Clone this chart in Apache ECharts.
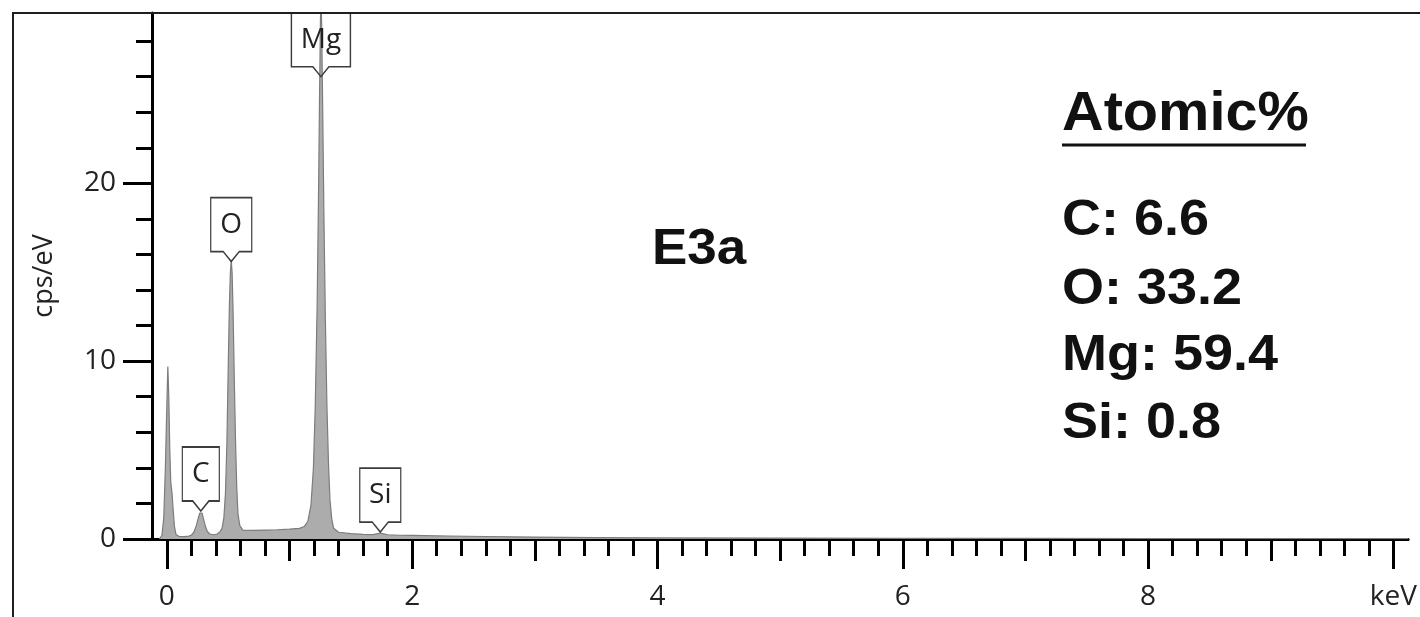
<!DOCTYPE html>
<html>
<head>
<meta charset="utf-8">
<script src="https://cdn.jsdelivr.net/npm/echarts@6/dist/echarts.min.js"></script>
<style>
  html, body { margin: 0; padding: 0; background: #ffffff; }
  #chart { width: 1420px; height: 617px; }
</style>
</head>
<body>
<div id="chart"></div>
<script>
// EDS spectrum of sample E3a (counts per eV against photon energy)
const energyKeV = [
  -0.06, -0.04, -0.025, -0.012, 0.0, 0.008, 0.016, 0.024, 0.032, 0.042, 0.052, 0.062, 0.075,
  0.10, 0.14, 0.18, 0.20, 0.22, 0.24, 0.255, 0.268, 0.277, 0.287, 0.30, 0.315, 0.33, 0.35,
  0.38, 0.41, 0.43, 0.45, 0.465, 0.478, 0.49, 0.50, 0.51, 0.518, 0.525, 0.532, 0.54, 0.55,
  0.56, 0.57, 0.58, 0.595, 0.62, 0.70, 0.80, 0.90, 1.00, 1.08, 1.12, 1.15, 1.175, 1.195,
  1.21, 1.225, 1.236, 1.245, 1.252, 1.256, 1.262, 1.27, 1.28, 1.292, 1.305, 1.318, 1.33,
  1.345, 1.36, 1.40, 1.50, 1.60, 1.68, 1.72, 1.74, 1.76, 1.80, 1.90, 2.0, 2.3, 2.6, 3.0,
  3.5, 4.0, 5.0, 6.0, 7.0, 8.0, 9.0, 10.12
];
const countsPerEV = [
  0.0, 0.2, 1.2, 4.0, 7.5, 9.7, 8.0, 5.0, 3.2, 2.6, 1.6, 0.7, 0.25,
  0.14, 0.13, 0.16, 0.22, 0.38, 0.75, 1.15, 1.45, 1.55, 1.45, 1.1, 0.7, 0.42, 0.28,
  0.24, 0.28, 0.38, 0.6, 1.2, 2.6, 5.5, 9.5, 13.2, 15.0, 15.7, 15.0, 12.8, 9.0,
  5.5, 2.9, 1.4, 0.75, 0.5, 0.48, 0.5, 0.52, 0.55, 0.6, 0.7, 1.0, 1.9, 4.0,
  7.5, 13, 19, 25, 29, 30.5, 29, 24.5, 18.5, 12.5, 7.5, 4.2, 2.2,
  1.1, 0.6, 0.38, 0.3, 0.26, 0.25, 0.3, 0.34, 0.3, 0.24, 0.21, 0.2, 0.17, 0.14, 0.11,
  0.08, 0.06, 0.045, 0.035, 0.03, 0.025, 0.02, 0.02
];

// Identified lines: element, energy (keV) and the height where each tag points
const peakLabels = ['C', 'O', 'Mg', 'Si'];
const peakEnergy = [0.277, 0.525, 1.256, 1.74];
const peakTagHeight = [1.57, 15.6, 26.0, 0.39];

// Axis ticks and their labels
const xMajorTicks = [0, 2, 4, 6, 8, 10];
const xTickLabels = ['0', '2', '4', '6', '8', 'keV'];
const xMidTicks = [1, 3, 5, 7, 9];
const yMajorTicks = [0, 10, 20];
const yTickLabels = ['0', '10', '20'];
const yAxisTitle = 'cps/eV';

// Quantification result
const sampleName = 'E3a';
const compositionTitle = 'Atomic%';
const compositionElements = ['C', 'O', 'Mg', 'Si'];
const compositionAtomicPct = ['6.6', '33.2', '59.4', '0.8'];

// ---------------------------------------------------------------------------
const X_MIN = -0.121, X_MAX = 10.12;
const Y_MIN = 0, Y_MAX = 29.58;

const xMinorTicks = [];
for (let i = 0; i <= 50; i++) {
  const v = +(i * 0.2).toFixed(1);
  if (Math.abs(v - Math.round(v)) > 1e-6) xMinorTicks.push(v);
}
const yMinorTicks = [];
for (let v = 2; v < Y_MAX; v += 2) if (v % 10 !== 0) yMinorTicks.push(v);

const TICK_FONT = '"Open Sans", "Noto Sans", sans-serif';
const BOLD_FONT = '"Liberation Sans", Arial, sans-serif';

// width of the tag boxes follows the element symbol
const measureCtx = document.createElement('canvas').getContext('2d');
measureCtx.font = '28px ' + TICK_FONT;
function tagSymbol(text) {
  const w = Math.round(measureCtx.measureText(text).width + 19);
  const bh = 54, notch = 10, half = 8;
  const c = w / 2;
  const path = 'path://M0,0 L' + w + ',0 L' + w + ',' + bh + ' L' + (c + half) + ',' + bh +
    ' L' + c + ',' + (bh + notch) + ' L' + (c - half) + ',' + bh + ' L0,' + bh + ' Z';
  return { path: path, size: [w, bh + notch] };
}

const seriesData = energyKeV.map((e, i) => [e, countsPerEV[i]]);

const markData = peakLabels.map((name, i) => {
  const s = tagSymbol(name);
  return {
    name: name,
    coord: [peakEnergy[i], peakTagHeight[i]],
    symbol: s.path,
    symbolSize: s.size,
    symbolOffset: [0, '-50%'],
    symbolKeepAspect: false
  };
});

function baseXAxis(extra) {
  return Object.assign({
    type: 'value', min: X_MIN, max: X_MAX, position: 'bottom',
    splitLine: { show: false },
    axisLine: { show: false, onZero: false },
    axisLabel: { show: false },
    axisTick: { show: false }
  }, extra);
}
function baseYAxis(extra) {
  return Object.assign({
    type: 'value', min: Y_MIN, max: Y_MAX, position: 'left',
    splitLine: { show: false },
    axisLine: { show: false, onZero: false },
    axisLabel: { show: false },
    axisTick: { show: false }
  }, extra);
}

const tickStyle = { color: '#000000', width: 3 };

const chart = echarts.init(document.getElementById('chart'), null, { renderer: 'canvas' });

const graphics = [
  {
    type: 'polyline', z: 10,
    shape: { points: [[13, 640], [13, 13], [1440, 13]] },
    style: { stroke: '#1e1e1e', lineWidth: 2, fill: null }
  },
  {
    type: 'text', z: 10, x: 652, y: 250, scaleX: 1.06,
    style: { text: sampleName, font: 'bold 50px ' + BOLD_FONT, fill: '#111111', verticalAlign: 'middle' }
  },
  {
    type: 'text', z: 10, x: 1062, y: 115, scaleX: 1.03,
    style: { text: compositionTitle, font: 'bold 56px ' + BOLD_FONT, fill: '#111111', verticalAlign: 'middle' }
  },
  {
    type: 'line', z: 10,
    shape: { x1: 1062, y1: 145, x2: 1306, y2: 145 },
    style: { stroke: '#111111', lineWidth: 3 }
  }
];
const rowY = [221, 290, 356, 424];
compositionElements.forEach((el, i) => {
  graphics.push({
    type: 'text', z: 10, x: 1062, y: rowY[i], scaleX: 1.08,
    style: {
      text: el + ': ' + compositionAtomicPct[i],
      font: 'bold 50px ' + BOLD_FONT, fill: '#111111', verticalAlign: 'middle'
    }
  });
});

chart.setOption({
  animation: false,
  backgroundColor: '#ffffff',
  grid: { left: 152, right: 0, top: 13, bottom: 78, containLabel: false },
  xAxis: [
    baseXAxis({
      axisLine: { show: true, onZero: false, lineStyle: { color: '#000000', width: 3 } },
      axisTick: { show: true, customValues: xMajorTicks, length: 30, lineStyle: tickStyle },
      axisLabel: {
        show: true, customValues: xMajorTicks, margin: 44,
        fontFamily: TICK_FONT, fontSize: 28, color: '#222222',
        formatter: v => xTickLabels[xMajorTicks.indexOf(Math.round(v))]
      }
    }),
    baseXAxis({ axisTick: { show: true, customValues: xMidTicks, length: 22, lineStyle: tickStyle } }),
    baseXAxis({ axisTick: { show: true, customValues: xMinorTicks, length: 17, lineStyle: tickStyle } })
  ],
  yAxis: [
    baseYAxis({
      name: yAxisTitle, nameLocation: 'middle', nameGap: 94, nameRotate: 90,
      nameTextStyle: { fontFamily: TICK_FONT, fontSize: 27, color: '#222222' },
      axisLine: { show: true, onZero: false, lineStyle: { color: '#000000', width: 3 } },
      axisTick: { show: true, customValues: yMajorTicks, length: 29, lineStyle: tickStyle },
      axisLabel: {
        show: true, customValues: yMajorTicks, margin: 36,
        fontFamily: TICK_FONT, fontSize: 28, color: '#222222',
        formatter: v => yTickLabels[yMajorTicks.indexOf(Math.round(v))]
      }
    }),
    baseYAxis({ axisTick: { show: true, customValues: yMinorTicks, length: 16, lineStyle: tickStyle } })
  ],
  series: [{
    type: 'line',
    xAxisIndex: 0, yAxisIndex: 0,
    data: seriesData,
    showSymbol: false,
    clip: true,
    lineStyle: { color: '#7c7c7c', width: 1.2 },
    areaStyle: { color: '#acacac', opacity: 1, origin: 'start' },
    z: 2,
    markPoint: {
      z: 5,
      silent: true,
      data: markData,
      itemStyle: { color: 'rgba(255,255,255,0)', borderColor: '#3c3c3c', borderWidth: 1.5 },
      label: {
        show: true, position: 'inside', offset: [0, -5],
        formatter: p => p.name,
        fontFamily: TICK_FONT, fontSize: 28, color: '#222222'
      }
    }
  }],
  graphic: graphics
});
</script>
</body>
</html>
